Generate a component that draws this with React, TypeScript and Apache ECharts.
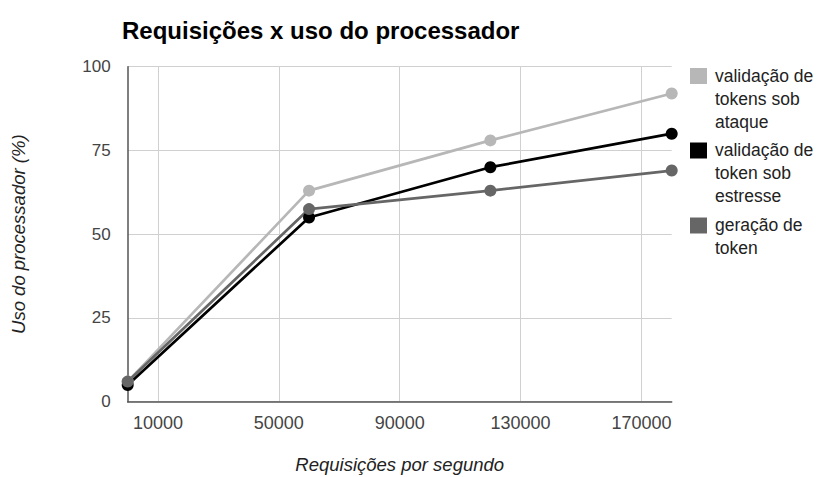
import React, { useEffect, useRef } from "react";
import * as echarts from "echarts";

// Requests per second (x) and CPU usage in percent (y)
const requestsPerSecond = [0, 60000, 120000, 180000];
const attackValidation = [6, 63, 78, 92];
const stressValidation = [5, 55, 70, 80];
const tokenGeneration = [6, 57.5, 63, 69];

const seriesNames = [
  "validação de\ntokens sob\nataque",
  "validação de\ntoken sob\nestresse",
  "geração de\ntoken",
];
const seriesColors = ["#b7b7b7", "#000000", "#666666"];
const xTickValues = [10000, 50000, 90000, 130000, 170000];

const FONT = "'Liberation Sans', Arial, sans-serif";

export default function App() {
  const ref = useRef<HTMLDivElement>(null);

  useEffect(() => {
    document.body.style.margin = "0";
    if (!ref.current) return;
    const chart = echarts.init(ref.current, undefined, { renderer: "svg" });

    const seriesData = [attackValidation, stressValidation, tokenGeneration];

    // legend entries stacked on the right, swatch aligned with the first text line
    const legendTops = [64, 138.5, 213.5];
    const legendGraphics = seriesNames.flatMap((name, i) => [
      {
        type: "rect",
        shape: { x: 690, y: legendTops[i] + 4, width: 17, height: 16 },
        style: { fill: seriesColors[i] },
      },
      {
        type: "text",
        x: 715,
        y: legendTops[i],
        style: {
          text: name,
          fill: "#222",
          font: `17.5px ${FONT}`,
          lineHeight: 23,
          verticalAlign: "top",
        },
      },
    ]);

    chart.setOption({
      animation: false,
      backgroundColor: "#ffffff",
      textStyle: { fontFamily: FONT },
      title: {
        text: "Requisições x uso do processador",
        left: 117,
        top: 13,
        textStyle: { fontSize: 24, fontWeight: "bold", color: "#000", fontFamily: FONT },
      },
      grid: {
        left: 127.7,
        right: 146.3,
        top: 66.7,
        bottom: 75.3,
        containLabel: false,
        outerBoundsMode: "none",
      },
      xAxis: {
        type: "value",
        min: 0,
        max: 180000,
        name: "Requisições por segundo",
        nameLocation: "middle",
        nameGap: 53,
        nameTextStyle: { fontSize: 18.5, fontStyle: "italic", color: "#222", fontFamily: FONT },
        axisLine: { show: true, lineStyle: { color: "#555", width: 1.5 } },
        axisTick: { show: false, customValues: xTickValues },
        axisLabel: {
          customValues: xTickValues,
          formatter: (v: number) => String(v),
          fontSize: 18,
          color: "#444",
          margin: 12,
          fontFamily: FONT,
        },
        splitLine: { show: true, lineStyle: { color: "#d0d0d0", width: 1 } },
      },
      yAxis: {
        type: "value",
        min: 0,
        max: 100,
        interval: 25,
        name: "Uso do processador (%)",
        nameLocation: "middle",
        nameGap: 100,
        nameTextStyle: { fontSize: 18.5, fontStyle: "italic", color: "#222", fontFamily: FONT },
        axisLine: { show: true, lineStyle: { color: "#555", width: 1.5 } },
        axisTick: { show: false },
        axisLabel: { fontSize: 17, color: "#444", margin: 17, fontFamily: FONT },
        splitLine: { show: true, lineStyle: { color: "#d0d0d0", width: 1 } },
      },
      series: seriesNames.map((name, i) => ({
        name,
        type: "line",
        data: requestsPerSecond.map((x, j) => [x, seriesData[i][j]]),
        symbol: "circle",
        symbolSize: 12,
        showSymbol: true,
        lineStyle: { color: seriesColors[i], width: 2.7 },
        itemStyle: { color: seriesColors[i] },
        emphasis: { disabled: true },
      })),
      graphic: legendGraphics,
    });

    return () => chart.dispose();
  }, []);

  return (
    <div
      ref={ref}
      style={{ position: "absolute", left: 0, top: 0, width: 818, height: 477 }}
    />
  );
}
